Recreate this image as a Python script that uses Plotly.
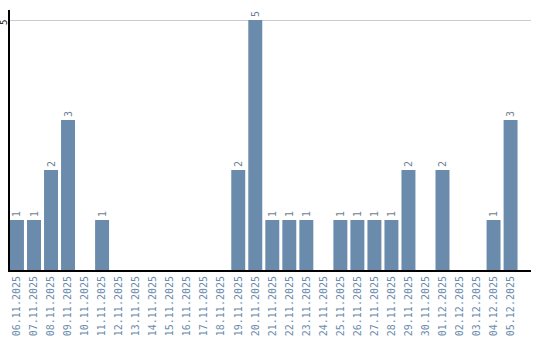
import plotly.graph_objects as go

dates = ["06.11.2025","07.11.2025","08.11.2025","09.11.2025","10.11.2025","11.11.2025",
         "12.11.2025","13.11.2025","14.11.2025","15.11.2025","16.11.2025","17.11.2025",
         "18.11.2025","19.11.2025","20.11.2025","21.11.2025","22.11.2025","23.11.2025",
         "24.11.2025","25.11.2025","26.11.2025","27.11.2025","28.11.2025","29.11.2025",
         "30.11.2025","01.12.2025","02.12.2025","03.12.2025","04.12.2025","05.12.2025"]
counts = [1,1,2,3,0,1, 0,0,0,0,0,0, 0,2,5,1,1,1, 0,1,1,1,1,2, 0,2,0,0,1,3]
labels = [str(v) if v else "" for v in counts]
y_ticks = [5]
y_ticktext = ["5"]

bar_color = "#6a8bab"
fig = go.Figure(go.Bar(
    x=list(range(len(dates))), y=counts, text=labels,
    textposition="outside", textangle=-90, cliponaxis=False,
    textfont=dict(family="DejaVu Sans Mono", size=10, color="#6f7f90"),
    marker=dict(color=bar_color, line=dict(width=0)),
))
fig.update_layout(
    width=540, height=340, margin=dict(l=10, r=9, t=10, b=70),
    paper_bgcolor="white", plot_bgcolor="white", showlegend=False, bargap=0.18,
    font=dict(family="DejaVu Sans Mono", size=10),
)
fig.update_xaxes(
    tickmode="array", tickvals=list(range(len(dates))), ticktext=dates,
    tickangle=-90, range=[-0.41, 30.2], showgrid=False, ticks="", automargin=False,
    showline=True, linecolor="black", linewidth=2,
    tickfont=dict(family="DejaVu Sans Mono", size=10, color=bar_color),
)
fig.update_yaxes(
    range=[0, 5.2], tickmode="array", tickvals=y_ticks, ticktext=y_ticktext,
    showticklabels=False,
    showgrid=True, gridcolor="#cccccc", gridwidth=1, zeroline=False, ticks="",
    showline=True, linecolor="black", linewidth=1.5, automargin=False,
)
for v, t in zip(y_ticks, y_ticktext):
    fig.add_annotation(
        x=0, xref="paper", y=v, yref="y", text=t, textangle=-90, showarrow=False,
        xanchor="center", yanchor="middle", xshift=-6, yshift=-3,
        font=dict(family="DejaVu Sans Mono", size=9, color="black"),
    )
fig.write_html("out.html")
